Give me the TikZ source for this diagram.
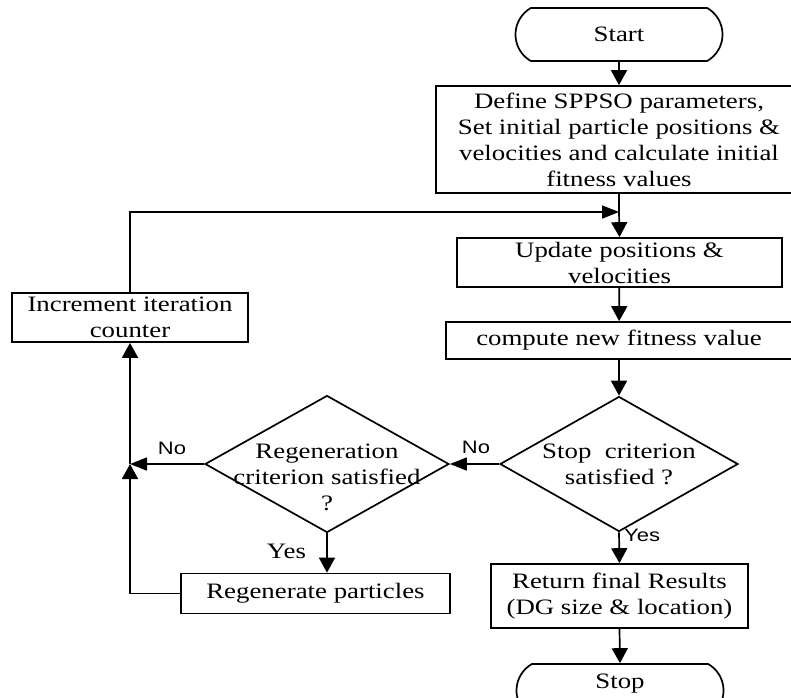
\documentclass[tikz,border=0pt]{standalone}
\usepackage{fontspec}
\setmainfont{Liberation Serif}[FakeStretch=1.22]
\newfontfamily\labelfont{Liberation Sans}[FakeStretch=1.22]
\usetikzlibrary{arrows.meta,shapes.geometric,shapes.misc}

\tikzset{
  body/.style={font=\fontsize{22}{26}\selectfont},
  procbox/.style={draw, line width=1.7pt, rectangle, inner sep=0pt, align=center, body},
  termbox/.style={draw, line width=1.7pt, rounded rectangle, rounded rectangle arc length=120,
                  inner sep=0pt, minimum width=207pt, minimum height=53pt, body},
  decbox/.style={draw, line width=1.7pt, diamond, inner sep=0pt},
  dectext/.style={align=center, inner sep=0pt, body},
  flow/.style={line width=1.7pt},
  varr/.style={flow, -{Triangle[length=15pt,width=16pt]}},
  harr/.style={flow, -{Triangle[length=17pt,width=13pt]}},
  sanslabel/.style={font=\labelfont\fontsize{18}{20}\selectfont, inner sep=0pt},
  seriflabel/.style={body, inner sep=0pt}
}

\begin{document}
\begin{tikzpicture}[x=1pt, y=-1pt]
  \useasboundingbox (0,0) rectangle (791,697);
  \fill[white] (0,0) rectangle (791,697);

  % main column
  \node[termbox] (start) at (619,34.5) {Start};
  \node[procbox, minimum width=366pt, minimum height=107pt] (define) at (619,139.5)
    {Define SPPSO parameters,\\Set initial particle positions \&\\velocities and calculate initial\\fitness values};
  \node[procbox, minimum width=325pt, minimum height=49pt] (update) at (619.5,262.5)
    {Update positions \&\\velocities};
  \node[procbox, minimum width=346pt, minimum height=37pt] (compute) at (619,340.5)
    {compute new fitness value};
  \node[decbox, minimum width=238pt, minimum height=135pt] (stopq) at (619,464) {};
  \node[dectext] (stopqtext) at (619,464) {Stop\ \ criterion\\satisfied ?};
  \node[procbox, minimum width=257pt, minimum height=64pt] (result) at (619.5,596)
    {Return final Results\\(DG size \& location)};
  \node[termbox] (stop) at (620,690.5) {};
  \node[body, inner sep=0pt] (stoptext) at (620,684) {Stop};

  % regeneration branch
  \node[decbox, minimum width=244pt, minimum height=137pt] (regenq) at (327,464) {};
  \node[dectext] (regenqtext) at (327,477) {Regeneration\\criterion satisfied\\?};
  \node[procbox, minimum width=269pt, minimum height=40pt] (regen) at (315.5,593.5)
    {Regenerate particles};
  \node[procbox, minimum width=236pt, minimum height=49pt] (incr) at (130,317.5)
    {Increment iteration\\counter};

  \coordinate (loopin) at (619,212);
  \coordinate (junction) at (incr.south |- regenq.west);

  % connectors
  \draw[varr] (start) -- (define);
  \draw[flow] (define.south) -- (loopin);
  \draw[varr] (loopin) -- (update.north);
  \draw[harr] (incr.north) |- (loopin);
  \draw[varr] (update) -- (compute);
  \draw[varr] (compute.south) -- (stopq.north);
  \draw[harr] (stopq.west) -- (regenq.east);
  \draw[varr] (stopq.south) -- (result.north);
  \draw[varr] (result.south) -- (stop.north);
  \draw[harr] (regenq.west) -- (junction);
  \draw[varr] (regenq.south) -- (regenq.south |- regen.north);
  \draw[varr] (regen.west) -| (junction);
  \draw[varr] (junction) -- (incr.south);

  % branch labels
  \node[sanslabel] (nostop) at (476,447) {No};
  \node[sanslabel] (noregen) at (172,448) {No};
  \node[sanslabel, anchor=west] (yesstop) at (624,535) {Yes};
  \node[seriflabel] (yesregen) at (286.5,551) {Yes};
\end{tikzpicture}
\end{document}
